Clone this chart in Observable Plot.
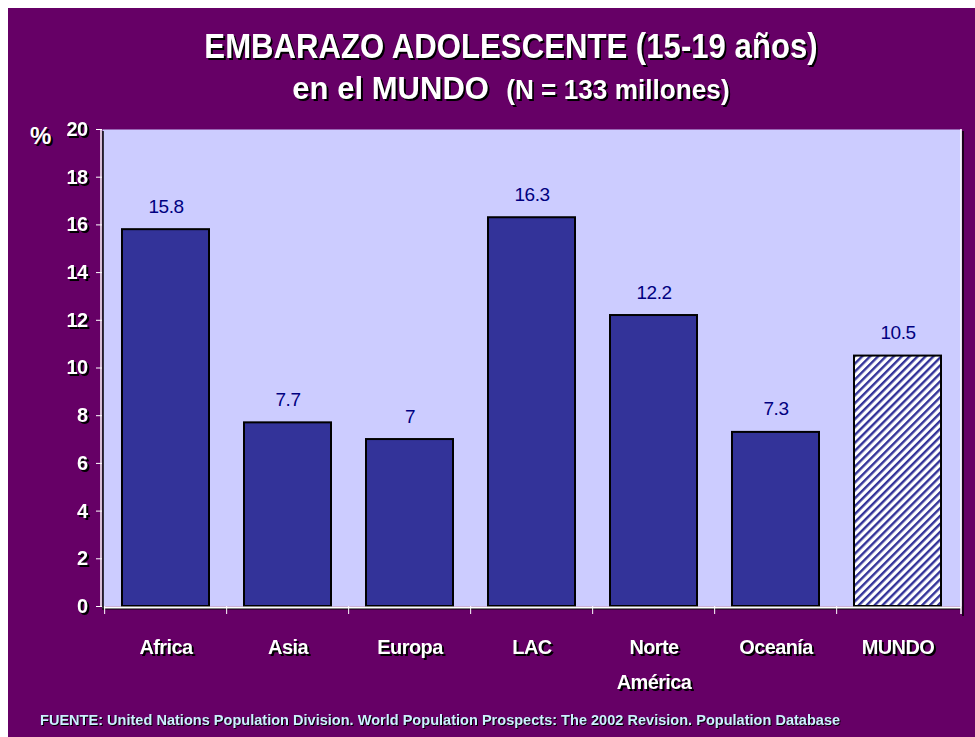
<!DOCTYPE html>
<html>
<head>
<meta charset="utf-8">
<script src="https://cdn.jsdelivr.net/npm/d3@7"></script>
<script src="https://cdn.jsdelivr.net/npm/@observablehq/plot@0.6"></script>
<style>
  body { margin: 8px 0 0 8px; background: #fff; overflow: hidden; }
  #wrap { position: relative; width: 967px; height: 729px; background: #660066; overflow: hidden;
          font-family: "Liberation Sans", Arial, sans-serif; }
  .sh { color: #fff; font-weight: bold; text-shadow: 2px 2px 0 #000; position: absolute; white-space: nowrap; }
  #t1 { left: 0; width: 1006px; text-align: center; top: 18px; font-size: 35px; transform: scaleX(0.89); transform-origin: 503px 50%; }
  #t2 { left: 0; width: 1006px; text-align: center; top: 62px; font-size: 32px; transform: scaleX(0.97); transform-origin: 503px 50%; }
  #t2 small { font-size: 27px; }
  #pct { left: 22px; top: 114px; font-size: 24px; }
  #foot { left: 32px; top: 703px; font-size: 15px; color: #ccf0ff; text-shadow: 1px 1px 0 #000; transform: scaleX(0.97); transform-origin: 0 50%; }
  #chart { position: absolute; left: 0; top: 100px; }
</style>
</head>
<body>
<div id="wrap">
  <div id="t1" class="sh">EMBARAZO ADOLESCENTE (15-19 años)</div>
  <div id="t2" class="sh">en el MUNDO&nbsp; <small>(N = 133 millones)</small></div>
  <div id="pct" class="sh">%</div>
  <div id="chart"></div>
  <div id="foot" class="sh">FUENTE: United Nations Population Division. World Population Prospects: The 2002 Revision. Population Database</div>
</div>
<script>
const categories = ["Africa", "Asia", "Europa", "LAC", "Norte\nAmérica", "Oceanía", "MUNDO"];
const values = [15.8, 7.7, 7, 16.3, 12.2, 7.3, 10.5];
const valueLabels = ["15.8", "7.7", "7", "16.3", "12.2", "7.3", "10.5"];
const yTicks = [0, 2, 4, 6, 8, 10, 12, 14, 16, 18, 20];

const data = categories.map((c, i) => ({cat: c, value: values[i], label: valueLabels[i], world: c === "MUNDO"}));

const W = 967, H = 600, mL = 94, mR = 14, mT = 21, mB = 102;
const step = (W - mL - mR) / categories.length;
const pad = 0.29;

const plot = Plot.plot({
  width: W, height: H,
  marginLeft: mL, marginRight: mR, marginTop: mT, marginBottom: mB,
  style: {background: "transparent", fontFamily: "'Liberation Sans', Arial, sans-serif"},
  x: {domain: categories, paddingInner: pad, paddingOuter: pad / 2, axis: null, label: null},
  y: {domain: [0, 20], axis: null, label: null},
  marks: [
    Plot.frame({fill: "#ccccff", stroke: null}),
    Plot.barY(data, {x: "cat", y: "value", fill: d => d.world ? "url(#hatch)" : "#333399", stroke: "#000", strokeWidth: 2}),
    Plot.text(data, {x: "cat", y: "value", text: "label", dy: -23, fill: "#000080", fontSize: 19}),
    Plot.ruleY([0], {stroke: "#fff", strokeWidth: 2, dy: 1}),
    Plot.axisY({ticks: yTicks, tickSize: 6, tickPadding: 9, stroke: "#fff", fill: "#fff", fontSize: 20, fontWeight: "bold", tickFormat: d => d, label: null}),
    Plot.axisX({tickSize: 8, dx: -step / 2, text: null, stroke: "#fff", tickPadding: 0, label: null}),
    Plot.axisX({tickSize: 0, tickPadding: 23, fill: "#fff", fontSize: 20, fontWeight: "bold", lineHeight: 1.75, lineAnchor: "top", label: null})
  ]
});

const svg = d3.select(plot);
const defs = svg.insert("defs", ":first-child");
const P = 5.6;
const pat = defs.append("pattern").attr("id", "hatch").attr("patternUnits", "userSpaceOnUse")
  .attr("width", P).attr("height", P).attr("patternTransform", "rotate(45)");
pat.append("rect").attr("width", P).attr("height", P).attr("fill", "#fff");
pat.append("rect").attr("width", 2.4).attr("height", P).attr("fill", "#333399");

// frame edges: white left/right lines plus right-end tick
const x0 = mL, x1 = W - mR, yb = H - mB;
const edges = svg.append("g").attr("stroke", "#fff").attr("stroke-width", 1.5);
edges.append("line").attr("x1", x0 - 1).attr("x2", x0 - 1).attr("y1", mT).attr("y2", yb + 1);
edges.append("line").attr("x1", x1).attr("x2", x1).attr("y1", mT).attr("y2", yb + 8);
edges.style("filter", "drop-shadow(2px 2px 0 #000)");

svg.selectAll('g[aria-label="y-axis tick label"], g[aria-label="x-axis tick label"]')
  .style("filter", "drop-shadow(2px 2px 0 #000)").attr("letter-spacing", "-0.6");
svg.selectAll('g[aria-label="text"]').attr("letter-spacing", "-0.5");
svg.selectAll('g[aria-label="rule"]').style("filter", "drop-shadow(0 1px 0 #000)");

document.getElementById("chart").appendChild(plot);
</script>
</body>
</html>
